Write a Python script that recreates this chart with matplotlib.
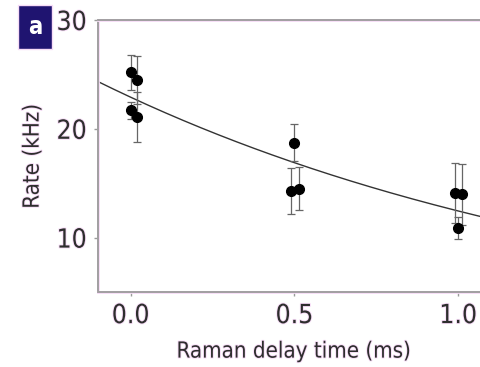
import numpy as np
import matplotlib
matplotlib.use("Agg")
import matplotlib.pyplot as plt
import matplotlib.patheffects as pe
from matplotlib import font_manager

# ---- data ----
delay_ms = [0.0, 0.02, 0.0, 0.02, 0.5, 0.49, 0.515, 0.99, 1.01, 1.0]
rate_khz = [25.2, 24.5, 21.7, 21.1, 18.7, 14.3, 14.5, 14.1, 14.0, 10.9]
rate_err = [1.6, 2.2, 0.8, 2.3, 1.7, 2.1, 2.0, 2.8, 2.8, 1.0]

# exponential decay fit drawn through the points
FIT_A = 22.9      # kHz at t = 0
FIT_TAU = 1.64    # ms

x_ticks = [0.0, 0.5, 1.0]
y_ticks = [10, 20, 30]

INK = "#2e2e2e"
SPINE = "#9a9a9a"
HALO = "#f7dcf7"

names = {f.name for f in font_manager.fontManager.ttflist}
narrow = "Liberation Sans Narrow" if "Liberation Sans Narrow" in names else "DejaVu Sans"
plt.rcParams["font.family"] = [narrow, "DejaVu Sans"]
plt.rcParams["font.stretch"] = "condensed"
halo = [pe.withStroke(linewidth=1.3, foreground=HALO)]

fig = plt.figure(figsize=(4.81, 3.67), dpi=100)
ax = fig.add_axes([98 / 481, 75 / 367, (491 - 98) / 481, (292 - 20) / 367])

t = np.linspace(-0.1, 1.1, 200)
ax.plot(t, FIT_A * np.exp(-t / FIT_TAU), color="#333333", linewidth=1.0, zorder=2)

ax.errorbar(delay_ms, rate_khz, yerr=rate_err, fmt="o", color="black",
            markersize=7, ecolor="#666666", elinewidth=0.9, capsize=3,
            capthick=0.9, zorder=3)

ax.set_xlim(-0.1, 1.1)
ax.set_ylim(5, 30)
ax.set_xticks(x_ticks)
ax.set_xticklabels([f"{v:.1f}" for v in x_ticks])
ax.set_yticks(y_ticks)
ax.tick_params(length=3, width=1, color=SPINE, labelcolor=INK, labelsize=19, pad=5)
for lab in ax.get_xticklabels() + ax.get_yticklabels():
    lab.set_path_effects(halo)

for side, sp in ax.spines.items():
    sp.set_color(SPINE)
    sp.set_linewidth(1.3)
    sp.set_path_effects([pe.Stroke(linewidth=2.0, foreground=HALO), pe.Normal()])

ax.set_xlabel("Raman delay time (ms)", fontsize=16, color=INK, labelpad=9,
              path_effects=halo)
ax.set_ylabel("Rate (kHz)", fontsize=16, color=INK, labelpad=10,
              path_effects=halo)

# panel letter
fig.text(35 / 481, 1 - 27 / 367, "a", fontsize=17, fontweight="bold", color="white",
         ha="center", va="center",
         bbox=dict(boxstyle="square,pad=0.42", facecolor="#1f1470",
                   edgecolor=HALO, linewidth=1.0))

fig.savefig("out.png", dpi=100)
